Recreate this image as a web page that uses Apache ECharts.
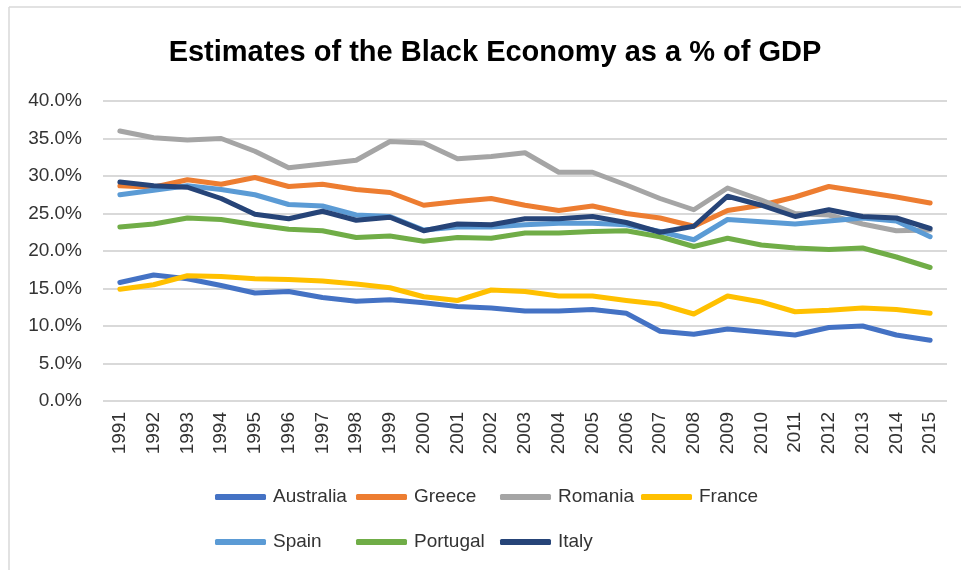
<!DOCTYPE html>
<html>
<head>
<meta charset="utf-8">
<script src="https://cdn.jsdelivr.net/npm/echarts@6/dist/echarts.min.js"></script>
<style>
html,body{margin:0;padding:0;background:#fff;}
#chart{width:961px;height:570px;}
</style>
</head>
<body>
<div id="chart"></div>
<script>
const years = ['1991','1992','1993','1994','1995','1996','1997','1998','1999','2000','2001','2002','2003','2004','2005','2006','2007','2008','2009','2010','2011','2012','2013','2014','2015'];
const australia = [15.8,16.8,16.3,15.4,14.4,14.6,13.8,13.3,13.5,13.1,12.6,12.4,12.0,12.0,12.2,11.7,9.3,8.9,9.6,9.2,8.8,9.8,10.0,8.8,8.1];
const greece = [28.7,28.5,29.5,28.9,29.8,28.6,28.9,28.2,27.8,26.1,26.6,27.0,26.1,25.4,26.0,25.0,24.4,23.3,25.4,26.1,27.2,28.6,27.9,27.2,26.4];
const romania = [36.0,35.1,34.8,35.0,33.3,31.1,31.6,32.1,34.6,34.4,32.3,32.6,33.1,30.5,30.5,28.8,27.0,25.5,28.4,26.8,25.0,24.8,23.6,22.7,22.8];
const france = [14.9,15.5,16.7,16.6,16.3,16.2,16.0,15.6,15.1,13.9,13.4,14.8,14.6,14.0,14.0,13.4,12.9,11.6,14.0,13.2,11.9,12.1,12.4,12.2,11.7];
const spain = [27.5,28.1,28.7,28.2,27.5,26.2,26.0,24.8,24.6,22.8,23.2,23.2,23.5,23.7,23.7,23.5,22.6,21.5,24.2,23.9,23.6,24.0,24.4,24.0,21.9];
const portugal = [23.2,23.6,24.4,24.2,23.5,22.9,22.7,21.8,22.0,21.3,21.8,21.7,22.4,22.4,22.6,22.7,21.9,20.6,21.7,20.8,20.4,20.2,20.4,19.2,17.8];
const italy = [29.2,28.7,28.5,27.0,24.9,24.3,25.3,24.1,24.5,22.7,23.6,23.5,24.3,24.3,24.6,23.8,22.5,23.3,27.3,26.1,24.6,25.5,24.6,24.4,23.0];
const yTicks = [0,5,10,15,20,25,30,35,40];

const seriesDefs = [
  {name:'Australia', data:australia, color:'#4472C4'},
  {name:'Greece', data:greece, color:'#ED7D31'},
  {name:'Romania', data:romania, color:'#A5A5A5'},
  {name:'France', data:france, color:'#FFC000'},
  {name:'Spain', data:spain, color:'#5B9BD5'},
  {name:'Portugal', data:portugal, color:'#70AD47'},
  {name:'Italy', data:italy, color:'#264478'}
];
const legendPos = [[215,487],[356,487],[500,487],[641,487],[215,532],[356,532],[500,532]];
const font = '"Liberation Sans", Arial, sans-serif';

const chart = echarts.init(document.getElementById('chart'), null, {renderer:'canvas'});
chart.setOption({
  animation:false,
  backgroundColor:'#fff',
  title:{
    text:'Estimates of the Black Economy as a % of GDP',
    left:490, top:33, textAlign:'center',
    textStyle:{fontFamily:font, fontSize:29, fontWeight:'bold', color:'#000'}
  },
  legend: seriesDefs.map((s,i)=>({
    data:[s.name], left:legendPos[i][0], top:legendPos[i][1],
    icon:'roundRect', itemWidth:51, itemHeight:6, padding:0,
    textStyle:{fontFamily:font, fontSize:19, color:'#333333', lineHeight:20, padding:[0,0,0,2]}
  })),
  grid:{left:103, right:14, top:101, bottom:169, containLabel:false},
  xAxis:{
    type:'category', data:years, boundaryGap:true,
    axisLine:{show:false}, axisTick:{show:false},
    axisLabel:{rotate:90, fontFamily:font, fontSize:19, color:'#333333', margin:11, interval:0}
  },
  yAxis:{
    type:'value', min:0, max:40, interval:5,
    axisLine:{show:false}, axisTick:{show:false},
    splitLine:{lineStyle:{color:'#d9d9d9', width:2}},
    axisLabel:{fontFamily:font, fontSize:19, color:'#333333', margin:21,
      formatter:v=>yTicks.includes(v)?v.toFixed(1)+'%':''}
  },
  series: seriesDefs.map(s=>({
    name:s.name, type:'line', data:s.data, showSymbol:false, symbol:'none',
    itemStyle:{color:s.color},
    lineStyle:{color:s.color, width:5, cap:'round', join:'round'}
  })),
  graphic:[
    {type:'line', shape:{x1:9,y1:7,x2:961,y2:7}, style:{stroke:'#d9d9d9', lineWidth:1.5}},
    {type:'line', shape:{x1:9,y1:7,x2:9,y2:570}, style:{stroke:'#d9d9d9', lineWidth:1.5}}
  ]
});
</script>
</body>
</html>
